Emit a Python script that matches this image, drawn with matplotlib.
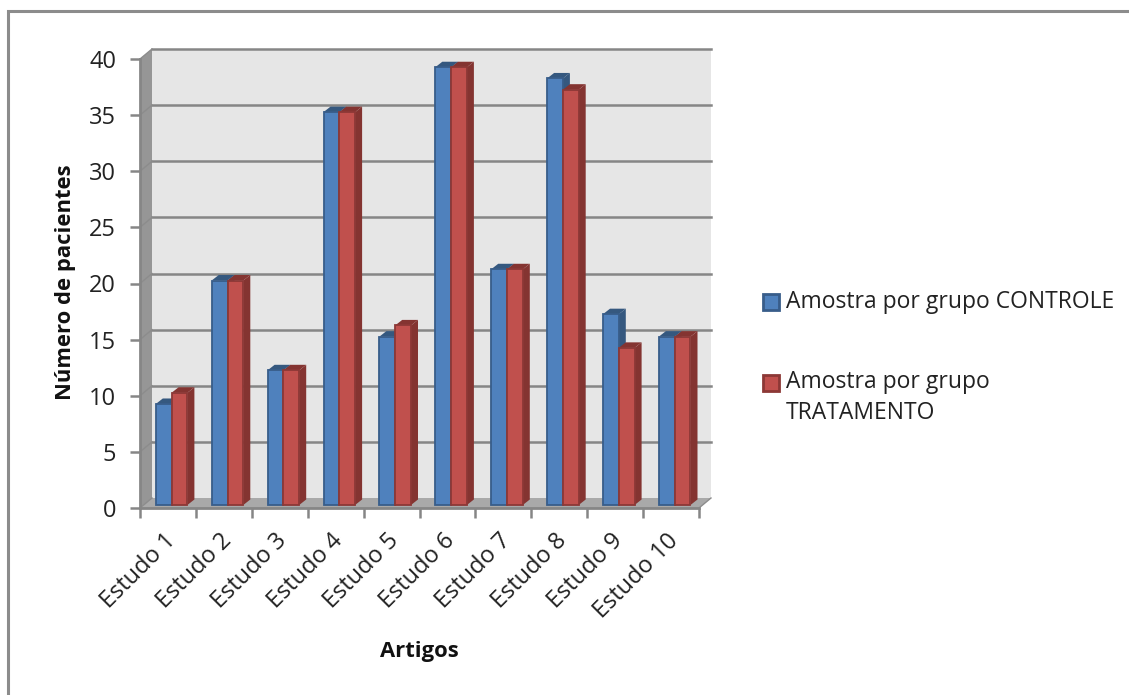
import matplotlib
matplotlib.use('Agg')
import matplotlib.pyplot as plt
from matplotlib.patches import Polygon, Rectangle
from matplotlib.transforms import blended_transform_factory

categories = ['Estudo 1', 'Estudo 2', 'Estudo 3', 'Estudo 4', 'Estudo 5',
              'Estudo 6', 'Estudo 7', 'Estudo 8', 'Estudo 9', 'Estudo 10']
controle = [9, 20, 12, 35, 15, 39, 21, 38, 17, 15]
tratamento = [10, 20, 12, 35, 16, 39, 21, 37, 14, 15]
y_ticks = [0, 5, 10, 15, 20, 25, 30, 35, 40]

W, H = 1129, 695
plt.rcParams['font.family'] = ['Open Sans', 'DejaVu Sans']

BLUE, BLUE_EDGE, BLUE_DARK = '#4f81bd', '#385d8a', '#35587f'
RED, RED_EDGE, RED_DARK = '#c0504d', '#8c3836', '#843431'
GRID = '#868686'

fig = plt.figure(figsize=(W / 100, H / 100), dpi=100, facecolor='white')

# moldura do grafico
fig.add_artist(Rectangle((7.5 / W, -10 / H), 1200 / W, (H + 10 - 11) / H, transform=fig.transFigure,
                         facecolor='white', edgecolor='#8c8c8c', linewidth=2.2, zorder=-1))

# eixos no plano da frente
ax = fig.add_axes([140 / W, 1 - 508 / H, 559 / W, 449 / H])
ax.set_xlim(0, len(categories))
ax.set_ylim(0, 40)
ax.patch.set_visible(False)

# profundidade do grafico em unidades de dados
dx = 12 / 55.9
dy = 10 / 11.225
clip = dict(clip_on=False)

# parede do fundo, parede lateral e chao
top = y_ticks[-1]
n = len(categories)
ax.add_patch(Polygon([(dx, dy), (n + dx, dy), (n + dx, top + dy), (dx, top + dy)],
                     facecolor='#e6e6e6', edgecolor='none', zorder=1, **clip))
ax.add_patch(Polygon([(0, 0), (dx, dy), (dx, top + dy), (0, top)],
                     facecolor='#969696', edgecolor='none', zorder=1, **clip))
ax.add_patch(Polygon([(0, 0), (n, 0), (n + dx, dy), (dx, dy)],
                     facecolor='#a9a9a9', edgecolor='none', zorder=1, **clip))
for t in y_ticks[1:]:
    ax.plot([dx, n + dx], [t + dy, t + dy], color=GRID, lw=1.8, zorder=2, **clip)
    ax.plot([0, dx], [t, t + dy], color='#8c8c8c', lw=1.0, zorder=2, **clip)
ax.plot([0, dx], [0, dy], color='#8c8c8c', lw=1.0, zorder=2, **clip)
ax.plot([n, n + dx], [0, dy], color='#8c8c8c', lw=1.0, zorder=2, **clip)


def draw_bar(x0, width, value, face, edge, dark, z):
    # barra com face frontal, lateral e topo
    base = 3 / 11.225
    bx, by = 7 / 55.9, 5.5 / 11.225
    x1 = x0 + width
    y1 = base + value
    ax.add_patch(Polygon([(x1, base), (x1 + bx, base + by), (x1 + bx, y1 + by), (x1, y1)],
                         facecolor=dark, edgecolor='none', zorder=z, **clip))
    ax.add_patch(Polygon([(x0, y1), (x1, y1), (x1 + bx, y1 + by), (x0 + bx, y1 + by)],
                         facecolor=dark, edgecolor='none', zorder=z, **clip))
    ax.add_patch(Rectangle((x0, base), width, value, facecolor=face, edgecolor=edge,
                           linewidth=1.3, zorder=z + 0.5, **clip))


bar_w = 15.8 / 55.9
start = 15.8 / 55.9
for i, (c, t) in enumerate(zip(controle, tratamento)):
    draw_bar(i + start, bar_w, c, BLUE, BLUE_EDGE, BLUE_DARK, 3 + i * 2)
    draw_bar(i + start + bar_w, bar_w, t, RED, RED_EDGE, RED_DARK, 3.5 + i * 2)

for side in ['top', 'right']:
    ax.spines[side].set_visible(False)
for side in ['left', 'bottom']:
    ax.spines[side].set_color(GRID)
    ax.spines[side].set_linewidth(2)
    ax.spines[side].set_zorder(50)

ax.set_yticks(y_ticks)
ax.set_xticks(range(n + 1))
ax.set_xticklabels([])
ax.tick_params(axis='both', color=GRID, width=1.8, length=7.2, labelsize=17, pad=10,
               labelcolor='#222222')

# rotulos das categorias inclinados
trans = blended_transform_factory(ax.transData, ax.transAxes)
for i, name in enumerate(categories):
    ax.text(i + 0.42, -0.047, name, transform=trans, rotation=45, rotation_mode='anchor',
            ha='right', va='top', fontsize=17, color='#222222')

fig.text(65 / W, 1 - 282 / H, 'Número de pacientes', rotation=90, ha='center', va='center',
         fontsize=15.8, fontweight='bold', color='#111111')
fig.text(419 / W, 1 - 651 / H, 'Artigos', ha='center', va='center',
         fontsize=15.8, fontweight='bold', color='#111111')

# legenda
fig.add_artist(Rectangle((763 / W, 1 - 310 / H), 16 / W, 16 / H, transform=fig.transFigure,
                         facecolor=BLUE, edgecolor=BLUE_EDGE, linewidth=2))
fig.add_artist(Rectangle((763 / W, 1 - 391 / H), 16 / W, 16 / H, transform=fig.transFigure,
                         facecolor=RED, edgecolor=RED_EDGE, linewidth=2))
fig.text(786 / W, 1 - 302 / H, 'Amostra por grupo CONTROLE', ha='left', va='center',
         fontsize=16.5, color='#222222')
fig.text(786 / W, 1 - 382 / H, 'Amostra por grupo', ha='left', va='center',
         fontsize=16.5, color='#222222')
fig.text(786 / W, 1 - 413 / H, 'TRATAMENTO', ha='left', va='center',
         fontsize=16.5, color='#222222')

fig.savefig('out.png', dpi=100)
